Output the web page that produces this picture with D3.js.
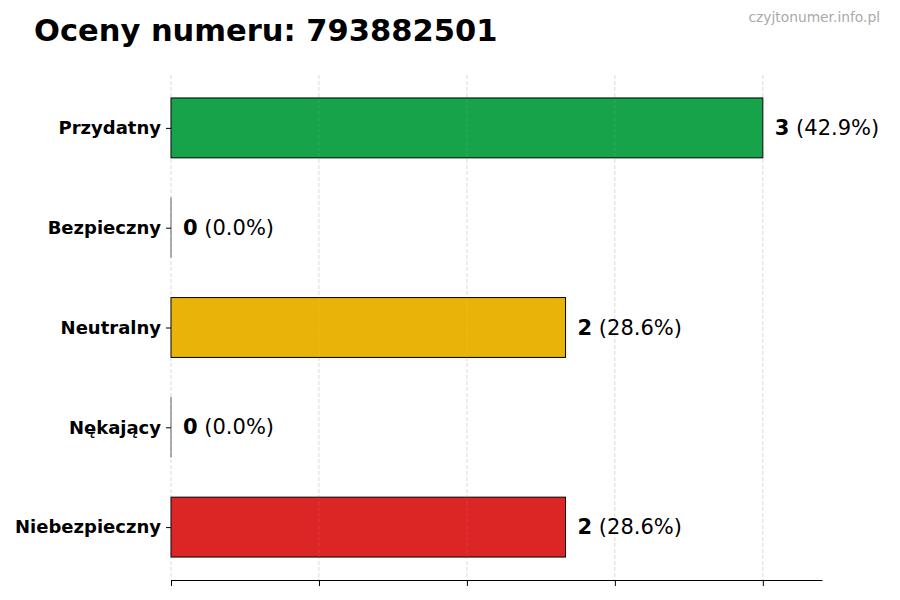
<!DOCTYPE html>
<html>
<head>
<meta charset="utf-8">
<script src="https://cdn.jsdelivr.net/npm/d3@7/dist/d3.min.js"></script>
<style>
  body { margin: 0; background: #fff; }
  svg { font-family: "DejaVu Sans", sans-serif; }
</style>
</head>
<body>
<div id="chart"></div>
<script>
// data
var categories = ["Przydatny", "Bezpieczny", "Neutralny", "Nękający", "Niebezpieczny"];
var counts = [3, 0, 2, 0, 2];
var percents = ["42.9%", "0.0%", "28.6%", "0.0%", "28.6%"];
var barColors = ["#16a34a", "#16a34a", "#eab308", "#dc2626", "#dc2626"];
var xTicks = [0, 0.75, 1.5, 2.25, 3];

var width = 900, height = 600;

var svg = d3.select("#chart").append("svg")
    .attr("width", width)
    .attr("height", height);

var x = d3.scaleLinear().domain([0, 3.3]).range([171, 822]);
var y = d3.scaleLinear().domain([-0.53, categories.length - 1 + 0.53]).range([75, 580]);
var barH = y(0.3) - y(-0.3);

// title + watermark
svg.append("text")
    .attr("x", 34).attr("y", 41)
    .attr("font-size", "30.5px").attr("font-weight", "bold")
    .attr("fill", "#000")
    .text("Oceny numeru: 793882501");

svg.append("text")
    .attr("x", 880).attr("y", 22)
    .attr("text-anchor", "end")
    .attr("font-size", "13.8px")
    .attr("fill", "#aaaaaa")
    .text("czyjtonumer.info.pl");

// vertical dashed grid
svg.append("g")
    .selectAll("line")
    .data(xTicks)
    .enter()
    .append("line")
    .attr("x1", function(d) { return x(d); })
    .attr("x2", function(d) { return x(d); })
    .attr("y1", 75)
    .attr("y2", 580)
    .attr("stroke", "#d0d0d0")
    .attr("stroke-width", 0.8)
    .attr("stroke-dasharray", "4,2");

// bars (zero bars still show their outline as a thin line)
svg.append("g")
    .selectAll("rect")
    .data(counts)
    .enter()
    .append("rect")
    .attr("x", x(0))
    .attr("y", function(d, i) { return y(i) - barH / 2; })
    .attr("width", function(d) { return Math.max(x(d) - x(0), 0.01); })
    .attr("height", barH)
    .attr("fill", function(d, i) { return barColors[i]; })
    .attr("stroke", "#000")
    .attr("stroke-width", function(d) { return d == 0 ? 0.6 : 1; });

// grid faintly over the bars too
svg.append("g")
    .selectAll("line")
    .data(xTicks)
    .enter()
    .append("line")
    .attr("x1", function(d) { return x(d); })
    .attr("x2", function(d) { return x(d); })
    .attr("y1", 75)
    .attr("y2", 580)
    .attr("stroke", "#ffffff")
    .attr("stroke-opacity", 0.12)
    .attr("stroke-width", 0.8)
    .attr("stroke-dasharray", "4,2");

// value labels
var labels = svg.append("g")
    .selectAll("text")
    .data(counts)
    .enter()
    .append("text")
    .attr("x", function(d) { return x(d) + 12; })
    .attr("y", function(d, i) { return y(i) + 7; })
    .attr("font-size", "21px")
    .attr("fill", "#000");
labels.append("tspan")
    .attr("font-weight", "bold")
    .text(function(d) { return d; });
labels.append("tspan")
    .text(function(d, i) { return " (" + percents[i] + ")"; });

// y axis (no spine, ticks only)
var yAxis = svg.append("g")
    .attr("transform", "translate(" + x(0) + ",0)")
    .call(d3.axisLeft(y)
        .tickValues(d3.range(categories.length))
        .tickFormat(function(i) { return categories[i]; })
        .tickSize(5)
        .tickPadding(5));
yAxis.select(".domain").remove();
yAxis.selectAll("text")
    .attr("font-size", "18px")
    .attr("font-weight", "bold")
    .attr("font-family", "DejaVu Sans, sans-serif")
    .attr("fill", "#000");
yAxis.selectAll("line").attr("stroke", "#000");

// x axis, no labels
var xAxis = svg.append("g")
    .attr("transform", "translate(0,580)")
    .call(d3.axisBottom(x)
        .tickValues(xTicks)
        .tickFormat("")
        .tickSize(6)
        .tickSizeOuter(0));
xAxis.select(".domain").attr("stroke", "#000").attr("stroke-width", 1.2);
xAxis.selectAll("line").attr("stroke", "#000");
</script>
</body>
</html>
